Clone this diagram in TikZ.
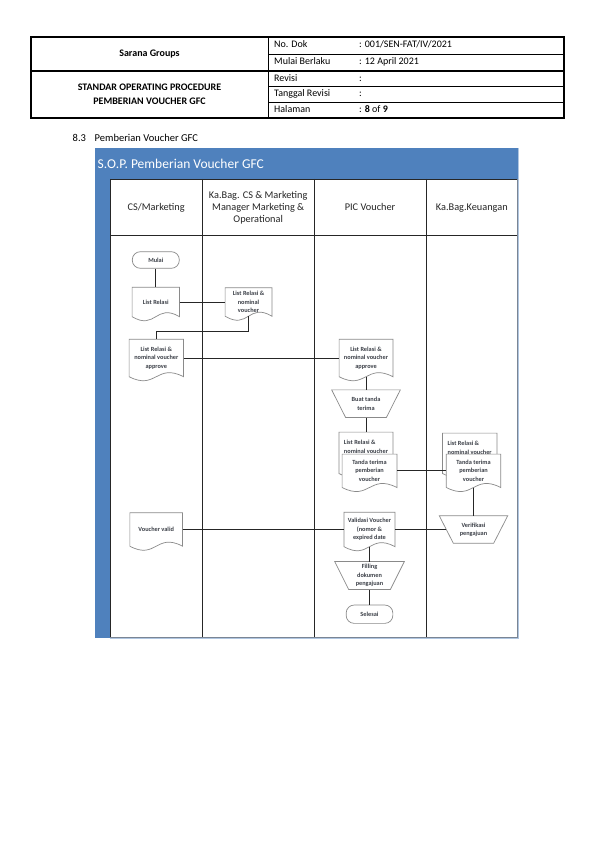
\documentclass[tikz,border=0pt]{standalone}
\usepackage{fontspec}
\setmainfont{Carlito}
\usetikzlibrary{calc}
\definecolor{sopblue}{HTML}{4F81BD}
\definecolor{shpgray}{HTML}{8A8A8A}
\definecolor{bordgray}{HTML}{7A8594}
\definecolor{shptext}{HTML}{3C4048}
\pgfdeclarelayer{back}
\pgfdeclarelayer{shp}
\pgfsetlayers{back,shp,main}
\tikzset{
  tblouter/.style={draw=black, line width=1.1pt},
  tblthin/.style={draw=black, line width=0.6pt},
  tbltxt/.style={font=\fontsize{10}{12}\selectfont, inner sep=0pt, anchor=west, text height=7pt, text depth=2pt},
  tblhead/.style={font=\fontsize{10}{14}\selectfont\bfseries, inner sep=0pt, align=center},
  lanetxt/.style={font=\fontsize{10.3}{12.2}\selectfont, align=center, text=black!85, inner sep=0pt},
  laneone/.style={lanetxt, text height=7.4pt, text depth=2.4pt},
  shptxt/.style={font=\fontsize{6.3}{8.3}\selectfont\bfseries, text=shptext, inner sep=0pt, align=center},
  termnode/.style={shptxt, draw=shpgray, line width=0.7pt, fill=white, rounded corners=8pt},
  shpline/.style={draw=shpgray, line width=0.7pt, fill=white},
  conn/.style={draw=black!85, line width=0.7pt},
  laneline/.style={draw=black!85, line width=0.8pt},
}
\newcommand\docoutline[2][0pt]{%
  \begin{pgfonlayer}{shp}
  \path[shpline] (#2.north west) -- (#2.north east) -- ($(#2.south east)+(0,-#1)$)
    .. controls ($(#2.south)+(0,-#1)+(0,14pt)$) and ($(#2.south)+(0,-#1)+(0,-14pt)$) .. ($(#2.south west)+(0,-#1)$) -- cycle;
  \end{pgfonlayer}}
\newcommand\trapoutline[1]{%
  \begin{pgfonlayer}{shp}
  \path[shpline] (#1.north west) -- (#1.north east) -- ([xshift=-14pt]#1.south east) -- ([xshift=14pt]#1.south west) -- cycle;
  \end{pgfonlayer}}
\begin{document}
\begin{tikzpicture}[x=1pt,y=-1pt]
\useasboundingbox (0,0) rectangle (595,842);
\begin{pgfonlayer}{back}
\fill[white] (0,0) rectangle (595,842);
\end{pgfonlayer}

% ---------- header table ----------
\draw[tblouter] (31,37) rectangle (564,118);
\draw[tblouter] (31,71) -- (564,71);
\draw[tblthin] (268,37) -- (268,118);
\draw[tblthin] (268,54) -- (564,54);
\draw[tblthin] (268,86.7) -- (564,86.7);
\draw[tblthin] (268,102.3) -- (564,102.3);
\node[tblhead] (sg) at (149.5,54) {Sarana Groups};
\node[tblhead] (sop) at (149.5,94.5) {STANDAR OPERATING PROCEDURE\\PEMBERIAN VOUCHER GFC};
\node[tbltxt] (l1) at (274,45.5) {No. Dok};
\node[tbltxt] (l2) at (274,62.5) {Mulai Berlaku};
\node[tbltxt] (l3) at (274,78.8) {Revisi};
\node[tbltxt] (l4) at (274,94.5) {Tanggal Revisi};
\node[tbltxt] (l5) at (274,110.2) {Halaman};
\node[tbltxt] (v1) at (359,45.5) {: 001/SEN-FAT/IV/2021};
\node[tbltxt] (v2) at (359,62.5) {: 12 April 2021};
\node[tbltxt] (v3) at (359,78.8) {:};
\node[tbltxt] (v4) at (359,94.5) {:};
\node[tbltxt] (v5) at (359,110.2) {: \textbf{8} of \textbf{9}};

% ---------- section heading ----------
\node[tbltxt, font=\fontsize{10.5}{12}\selectfont] (secnum) at (72.5,139) {8.3};
\node[tbltxt, font=\fontsize{10.5}{12}\selectfont] (secname) at (94.5,139) {Pemberian Voucher GFC};

% ---------- swimlane frame ----------
\begin{pgfonlayer}{back}
\fill[sopblue] (94.5,148.5) rectangle (517.5,179);
\fill[sopblue] (94.5,179) rectangle (110,637.5);
\fill[white] (110,179) rectangle (517.5,637.5);
\draw[laneline] (110,179) -- (517.5,179);
\draw[laneline] (110,235.5) -- (517.5,235.5);
\draw[laneline] (110,179) -- (110,637.5);
\draw[laneline] (202.3,179) -- (202.3,637.5);
\draw[laneline] (314,179) -- (314,637.5);
\draw[laneline] (426,179) -- (426,637.5);
\draw[draw=sopblue!45, line width=0.8pt] (518.5,148.5) -- (518.5,638.5) -- (110,638.5);
\draw[draw=bordgray, line width=1.2pt] (517.5,179) -- (517.5,637.5) -- (110,637.5);
\end{pgfonlayer}
\node[anchor=west, text=white, font=\fontsize{13.5}{16}\selectfont, inner sep=0pt] (title) at (97.5,163.5) {S.O.P. Pemberian Voucher GFC};
\node[laneone] (h1) at (156.2,208) {CS/Marketing};
\node[lanetxt] (h2) at (258.2,207.5) {Ka.Bag. CS \& Marketing\\Manager Marketing \&\\Operational};
\node[laneone] (h3) at (370,208) {PIC Voucher};
\node[laneone] (h4) at (471.8,208) {Ka.Bag.Keuangan};

% ---------- flow shapes ----------
\node[termnode, minimum width=47pt, minimum height=16.6pt] (mulai) at (155.8,260) {Mulai};
\node[shptxt, minimum width=47pt, minimum height=29pt] (lr) at (155.8,302) {List Relasi};
\docoutline{lr}
\node[shptxt, minimum width=46.4pt, minimum height=28pt] (lrn) at (248.5,302) {List Relasi \&\\nominal\\voucher};
\docoutline{lrn}
\node[shptxt, minimum width=54pt, minimum height=37pt] (lra1) at (156.3,358) {List Relasi \&\\nominal voucher\\approve};
\docoutline{lra1}
\node[shptxt, minimum width=53.4pt, minimum height=37pt] (lra2) at (366,358) {List Relasi \&\\nominal voucher\\approve};
\docoutline{lra2}
\node[shptxt, minimum width=68.3pt, minimum height=27.3pt] (buat) at (366,403.7) {Buat tanda\\terima};
\trapoutline{buat}
% PIC stack
\node[shptxt, align=left, minimum width=53.7pt, minimum height=29pt] (lrn2) at (366,446.8) {List Relasi \&\\nominal voucher};
\docoutline[12pt]{lrn2}
\node[shptxt, minimum width=54.4pt, minimum height=33pt] (tt1) at (369.5,470.8) {Tanda terima\\pemberian\\voucher};
\docoutline{tt1}
% Keuangan stack
\node[shptxt, align=left, minimum width=54pt, minimum height=29pt] (lrn3) at (469.7,447.8) {List Relasi \&\\nominal voucher};
\docoutline[11pt]{lrn3}
\node[shptxt, minimum width=54pt, minimum height=33pt] (tt2) at (473.5,470.8) {Tanda terima\\pemberian\\voucher};
\docoutline{tt2}
\node[shptxt, minimum width=68pt, minimum height=27pt] (ver) at (473.5,529.5) {Verifikasi\\pengajuan};
\trapoutline{ver}
\node[shptxt, minimum width=52.3pt, minimum height=33pt] (vv) at (156.2,529.5) {Voucher valid};
\docoutline{vv}
\node[shptxt, minimum width=50.7pt, minimum height=34pt] (val) at (369.5,529.5) {Validasi Voucher\\(nomor \&\\expired date};
\docoutline{val}
\node[shptxt, minimum width=69.3pt, minimum height=27.6pt] (fil) at (369.5,575.5) {Filling\\dokumen\\pengajuan};
\trapoutline{fil}
\node[termnode, minimum width=46.7pt, minimum height=18.3pt] (sel) at (369.5,614.2) {Selesai};

% ---------- connectors ----------
\draw[conn] (mulai.south) -- (lr.north);
\draw[conn] (lr.east) -- (lr.east -| lrn.west);
\draw[conn] (lrn.south) |- ([yshift=8pt]lra1.north) -- (lra1.north);
\draw[conn] (lra1.east) -- (lra1.east -| lra2.west);
\draw[conn] (lra2.south) -- (buat.north);
\draw[conn] (buat.south) -- (lrn2.north);
\draw[conn] (tt1.east) -- (tt1.east -| tt2.west);
\draw[conn] (tt2.south) -- (ver.north);
\draw[conn] (vv.east) -- (val.west);
\draw[conn] (val.east) -- ([xshift=7pt]ver.west);
\draw[conn] (val.south) -- (fil.north);
\draw[conn] (fil.south) -- (sel.north);
\end{tikzpicture}
\end{document}
